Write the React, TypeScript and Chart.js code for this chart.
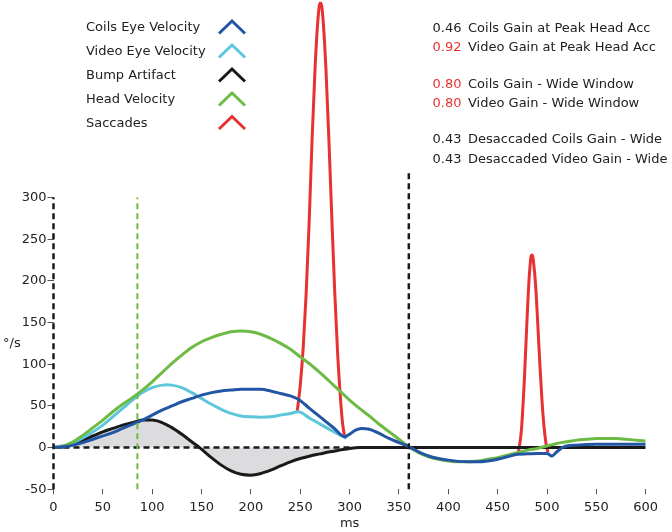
import React, { useEffect, useRef } from "react";
import { Chart, registerables } from "chart.js";

Chart.register(...registerables);

// ---- axis ticks ----
const xTicks = [0, 50, 100, 150, 200, 250, 300, 350, 400, 450, 500, 550, 600];
const yTicks = [-50, 0, 50, 100, 150, 200, 250, 300];

// ---- series: [ms, deg/s] ----
const coilsEye: [number, number][] = [
  [0, 0], [10, 1], [20, 3], [30, 6], [40, 10], [50, 14], [60, 18], [70, 23], [80, 28], [90, 33],
  [100, 39], [110, 45], [120, 50], [130, 55], [140, 59], [150, 63], [160, 66], [170, 68], [180, 69],
  [190, 70], [200, 70], [210, 70], [220, 68], [230, 65], [240, 62], [248, 58], [260, 46.5], [272, 35],
  [284, 23.5], [295, 13], [300, 16], [306, 21], [312, 23], [320, 22], [330, 17], [340, 11], [350, 6],
  [360, 1], [370, -5], [380, -10], [390, -13], [400, -15], [410, -16.5], [420, -17], [430, -17],
  [440, -16], [450, -14], [460, -11], [470, -8], [480, -7.5], [490, -7], [500, -7], [505, -10],
  [510, -5], [517, 1], [530, 3], [550, 4], [575, 4], [600, 4],
];

const videoEye: [number, number][] = [
  [0, 1], [10, 2], [20, 6], [30, 12], [40, 19], [50, 27], [60, 37], [70, 47], [80, 57], [90, 66],
  [100, 72], [110, 75], [115, 75.5], [120, 75], [130, 72], [140, 66], [150, 59], [160, 52], [170, 46],
  [180, 41], [190, 38], [200, 37], [210, 36.5], [220, 37], [230, 39], [240, 41], [248, 43], [260, 35],
  [272, 27], [284, 19], [297, 11],
];

const bumpArtifact: [number, number][] = [
  [0, 0], [10, 1], [20, 5], [30, 9], [40, 14], [50, 19], [60, 23], [70, 27], [80, 30], [90, 33],
  [100, 33], [110, 30], [120, 24], [130, 16], [140, 7], [148, 0], [160, -12], [170, -21], [180, -28],
  [190, -32], [200, -33], [210, -31], [220, -27], [230, -22], [240, -17], [250, -13], [260, -10],
  [270, -7.5], [280, -5], [290, -3], [300, -1], [310, 0], [600, 0],
];

const headVelocity: [number, number][] = [
  [0, 0], [10, 2], [20, 7], [30, 15], [40, 24], [50, 33], [60, 43], [70, 52], [80, 60], [90, 69],
  [100, 79], [110, 90], [120, 101], [130, 111], [140, 120], [150, 127], [160, 132], [170, 136],
  [180, 139], [190, 140], [200, 139], [210, 136], [220, 131], [230, 125], [240, 118], [250, 109],
  [260, 100], [270, 90], [280, 79], [290, 68], [300, 57], [310, 47], [320, 38], [330, 28], [340, 19],
  [350, 10], [360, 1], [370, -6], [380, -11], [390, -14], [400, -16], [410, -17], [420, -17],
  [430, -16], [440, -14], [450, -12], [460, -9], [470, -6], [480, -3], [490, -1], [500, 2], [510, 5],
  [520, 7], [530, 9], [540, 10], [550, 11], [560, 11], [570, 11], [580, 10], [590, 9], [600, 8],
];

const saccade1: [number, number][] = [
  [247, 44], [250, 75], [253, 120], [256, 185], [259, 270], [262, 370], [265, 455], [268, 515],
  [270, 533], [271, 533], [273, 515], [276, 455], [279, 370], [282, 275], [285, 185], [288, 110],
  [291, 55], [293, 28], [295, 13],
];

const saccade2: [number, number][] = [
  [471, -6], [474, 20], [477, 80], [480, 160], [482, 205], [484, 230], [485, 231], [487, 215],
  [489, 185], [491, 140], [493, 95], [495, 55], [497, 25], [499, 5], [501, -6],
];

// reference lines
const zeroLine: [number, number][] = [[0, 0], [300, 0]];
const windowStart: [number, number][] = [[0, -50], [0, 300]];
const windowEnd: [number, number][] = [[360, -50], [360, 330]];
const peakAccLine: [number, number][] = [[85, -50], [85, 300]];

// ---- legend & gain texts ----
const legendLabels = ["Coils Eye Velocity", "Video Eye Velocity", "Bump Artifact", "Head Velocity", "Saccades"];
const legendColors = ["#2256a5", "#5cc6db", "#1a1a1a", "#6dbb45", "#e83131"];

const gainValues = ["0.46", "0.92", "0.80", "0.80", "0.43", "0.43"];
const gainLabels = [
  "Coils Gain at Peak Head Acc",
  "Video Gain at Peak Head Acc",
  "Coils Gain - Wide Window",
  "Video Gain - Wide Window",
  "Desaccaded Coils Gain - Wide",
  "Desaccaded Video Gain - Wide",
];
const gainValueColors = ["#222222", "#e83131", "#e83131", "#e83131", "#222222", "#222222"];

const FONT = '"DejaVu Sans", Verdana, sans-serif';
const TEXT = "#222222";

const pts = (a: [number, number][]) => a.map(([x, y]) => ({ x, y }));

const textPlugin = {
  id: "texts",
  afterDraw(chart: any) {
    const ctx = chart.ctx as CanvasRenderingContext2D;
    ctx.save();
    ctx.font = `13px ${FONT}`;
    ctx.textBaseline = "middle";
    ctx.textAlign = "left";
    // legend
    const legendY = [28, 52, 76, 100, 123.5];
    legendLabels.forEach((lab, i) => {
      const y = legendY[i];
      ctx.fillStyle = TEXT;
      ctx.fillText(lab, 86, y);
      ctx.strokeStyle = legendColors[i];
      ctx.lineWidth = 3;
      ctx.lineCap = "butt";
      ctx.lineJoin = "miter";
      ctx.beginPath();
      ctx.moveTo(219, y + 5.5);
      ctx.lineTo(232, y - 7);
      ctx.lineTo(245, y + 5.5);
      ctx.stroke();
    });
    // gains
    const gainY = [28.7, 47.3, 85, 103.7, 139.3, 159.3];
    gainValues.forEach((v, i) => {
      ctx.fillStyle = gainValueColors[i];
      ctx.fillText(v, 432.5, gainY[i]);
      ctx.fillStyle = TEXT;
      ctx.fillText(gainLabels[i], 468, gainY[i]);
    });
    // y axis title (horizontal)
    ctx.fillStyle = TEXT;
    ctx.fillText("°/s", 3, 344);
    ctx.restore();
  },
};

export default function App() {
  const ref = useRef<HTMLCanvasElement | null>(null);

  useEffect(() => {
    if (!ref.current) return;
    const dashed = (data: [number, number][], color: string, order: number, width = 2.5) => ({
      data: pts(data),
      borderColor: color,
      borderWidth: width,
      borderDash: [6, 4],
      pointRadius: 0,
      fill: false,
      tension: 0,
      clip: false,
      order,
    });
    const series = (data: [number, number][], color: string, order: number, extra: any = {}) => ({
      data: pts(data),
      borderColor: color,
      borderWidth: 3,
      pointRadius: 0,
      fill: false,
      cubicInterpolationMode: "monotone",
      order,
      ...extra,
    });

    const chart = new Chart(ref.current, {
      type: "line",
      data: {
        datasets: [
          series(coilsEye, legendColors[0], 1),
          series(headVelocity, legendColors[3], 2),
          series(videoEye, legendColors[1], 3),
          series(bumpArtifact, legendColors[2], 4, {
            fill: { value: 0 },
            backgroundColor: "#dcdcdf",
          }),
          series(saccade1, legendColors[4], 5),
          series(saccade2, legendColors[4], 5),
          dashed(zeroLine, "#1a1a1a", 3.5),
          dashed(windowStart, "#1a1a1a", 0),
          dashed(windowEnd, "#1a1a1a", 0),
          dashed(peakAccLine, "#6dbb45", 0, 2),
        ] as any,
      },
      options: {
        animation: false,
        responsive: false,
        devicePixelRatio: 1,
        layout: { padding: { left: 0, right: 26.3, top: 0, bottom: 0 } },
        plugins: { legend: { display: false }, tooltip: { enabled: false } },
        scales: {
          x: {
            type: "linear",
            min: 0,
            max: 600,
            afterBuildTicks: (s: any) => {
              s.ticks = xTicks.map((v) => ({ value: v }));
            },
            afterFit: (s: any) => {
              s.height = 42.7;
              s.paddingLeft = 0;
              s.paddingRight = 0;
            },
            border: { display: false },
            grid: { drawOnChartArea: false, drawTicks: true, tickLength: 5, color: "#555555", lineWidth: 1 },
            ticks: {
              autoSkip: false,
              maxRotation: 0,
              padding: 6,
              color: TEXT,
              font: { family: FONT, size: 13 },
            },
            title: {
              display: true,
              text: "ms",
              color: TEXT,
              font: { family: FONT, size: 13 },
              padding: { top: 0, bottom: 1 },
            },
          },
          y: {
            type: "linear",
            min: -50,
            max: 537,
            afterBuildTicks: (s: any) => {
              s.ticks = yTicks.map((v) => ({ value: v }));
            },
            afterFit: (s: any) => {
              s.width = 53.5;
              s.paddingTop = 0;
              s.paddingBottom = 0;
            },
            border: { display: false },
            grid: { drawOnChartArea: false, drawTicks: true, tickLength: 6, color: "#555555", lineWidth: 1 },
            ticks: {
              padding: 1,
              color: TEXT,
              font: { family: FONT, size: 13 },
            },
          },
        },
      } as any,
      plugins: [textPlugin],
    });
    return () => chart.destroy();
  }, []);

  return (
    <div style={{ position: "fixed", left: 0, top: 0, width: 672, height: 532, background: "#ffffff" }}>
      <canvas ref={ref} width={672} height={532} style={{ display: "block", width: 672, height: 532 }} />
    </div>
  );
}
